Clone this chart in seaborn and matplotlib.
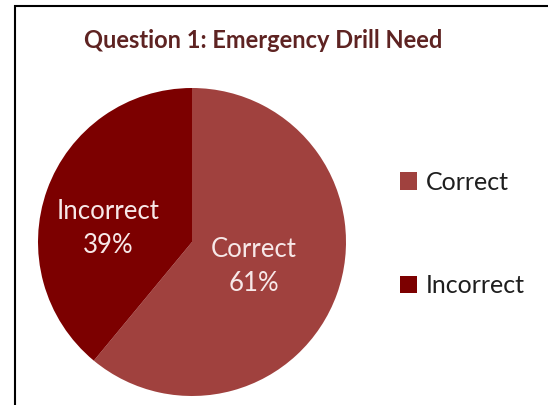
import matplotlib
matplotlib.use("Agg")
import matplotlib.pyplot as plt
from matplotlib.patches import Rectangle
import seaborn as sns

categories = ["Correct", "Incorrect"]
values = [61, 39]
title = "Question 1: Emergency Drill Need"

sns.set_theme(style="white")
plt.rcParams['font.family'] = ['Lato', 'DejaVu Sans']

colors = sns.color_palette(["#A0413E", "#7C0000"])

W, H = 548, 405
fig = plt.figure(figsize=(W / 100, H / 100), dpi=100)
fig.patch.set_facecolor("white")

cx, cy, r = 192, 242, 154
ax = fig.add_axes([(cx - r) / W, (H - cy - r) / H, 2 * r / W, 2 * r / H])

wedges, texts, autotexts = ax.pie(
    values, colors=colors, startangle=90, counterclock=False,
    labels=None, autopct=lambda p: "", pctdistance=0.5,
    wedgeprops=dict(linewidth=0))
ax.set_xlim(-1, 1)
ax.set_ylim(-1, 1)
ax.set_aspect("equal")
ax.axis("off")

# label positions relative to pie (radius units)
label_pos = [(0.40, -0.16), (-0.545, 0.09)]
for t, cat, v, pos in zip(autotexts, categories, values, label_pos):
    t.set_text(f"{cat}\n{v}%")
    t.set_position(pos)
    t.set_color("#F7E8E8")
    t.set_fontsize(18.5)
    t.set_ha("center")
    t.set_va("center")
    t.set_linespacing(1.45)

fig.text(263 / W, 1 - 41 / H, title, ha="center", va="center",
         fontsize=17, fontweight="bold", color="#5E2322")

fig.legend(wedges, categories, loc="center left",
           bbox_to_anchor=(377 / W, 1 - 234 / H), frameon=False,
           fontsize=18, labelspacing=3.2, handlelength=0.7, handleheight=0.7,
           handletextpad=0.35, labelcolor="#1E1E1E")

fig.add_artist(Rectangle((15 / W, -0.1), 1.0, (H - 6) / H + 0.1,
                         transform=fig.transFigure, fill=False,
                         lw=1.5, ec="black"))

fig.savefig("out.png", dpi=100)
